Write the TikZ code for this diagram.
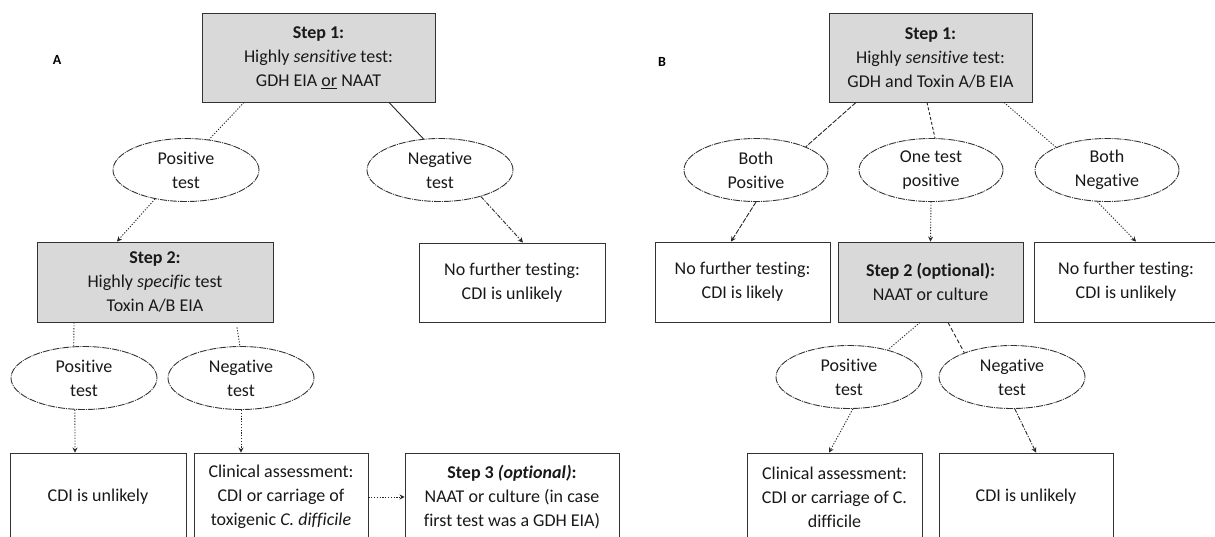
\documentclass[tikz,border=0pt]{standalone}
\usepackage{fontspec}
\setmainfont{Carlito}[Ligatures=NoCommon]
\usetikzlibrary{arrows.meta,shapes.geometric}
\definecolor{boxgray}{RGB}{217,217,217}
\begin{document}
\begin{tikzpicture}[x=1pt,y=-1pt,
  every node/.style={font=\fontsize{18}{24}\selectfont, text=black!90, inner sep=0pt, align=center},
  box/.style={draw=black!80, line width=0.9pt, rectangle, minimum height=80pt},
  gbox/.style={box, fill=boxgray},
  oval/.style={draw=black!80, line width=0.9pt, ellipse, minimum width=146pt, minimum height=63pt, dash pattern=on 7pt off 1pt on 1pt off 1pt},
  lbl/.style={font=\fontsize{14}{16}\selectfont\bfseries, text=black},
  con/.style={line width=0.9pt, draw=black!85},
  arr/.style={con, -{Stealth[length=5pt,width=5pt]}},
  dotc/.style={dash pattern=on 1.2pt off 1.6pt},
  dashc/.style={dash pattern=on 5pt off 1.5pt},
  ddotc/.style={dash pattern=on 4pt off 1.5pt on 1.2pt off 1.5pt}
]
\clip (0,0) rectangle (1215,536);
\fill[white] (0,0) rectangle (1215,536);

% ---------------- Panel A ----------------
\node[lbl] (labA) at (57,60) {A};
\node[gbox, minimum width=233pt, minimum height=89pt] (s1A) at (318.5,57.5)
  {\textbf{Step 1:}\\Highly \textit{sensitive} test:\\GDH EIA \underline{or} NAAT};
\node[oval] (posA) at (186,170) {Positive\\test};
\node[oval] (negA) at (440,170) {Negative\\test};
\node[gbox, minimum width=236pt] (s2A) at (155,282)
  {\textbf{Step 2:}\\Highly \textit{specific} test\\Toxin A/B EIA};
\node[box, minimum width=186pt, minimum height=79pt] (nfA) at (512,282.5)
  {No further testing:\\CDI is unlikely};
\node[oval] (posA2) at (84,378) {Positive\\test};
\node[oval] (negA2) at (241,378) {Negative\\test};
\node[box, minimum width=176pt, minimum height=88pt] (cdiA) at (98,497) {CDI is unlikely};
\node[box, minimum width=174pt, minimum height=88pt] (clinA) at (281,497)
  {Clinical assessment:\\CDI or carriage of\\toxigenic \textit{C. difficile}};
\node[box, minimum width=214pt, minimum height=88pt] (s3A) at (512,497)
  {\textbf{Step 3 \textit{(optional)}:}\\NAAT or culture (in case\\first test was a GDH EIA)};

\draw[con, dotc] ([xshift=-74.5pt]s1A.south) -- (posA.53);
\draw[con] ([xshift=70.5pt]s1A.south) -- (negA.118);
\draw[arr, dotc] (posA.223) -- ([xshift=-38pt]s2A.north);
\draw[arr, ddotc] (negA.327) -- ([xshift=11pt]nfA.north);
\draw[con, dotc] ([xshift=-81pt]s2A.south) -- (posA2.108);
\draw[con, dotc] ([xshift=82pt,yshift=-5pt]s2A.south) -- (negA2.92);
\draw[arr, dotc] (posA2.254) -- ([xshift=-23pt]cdiA.north);
\draw[arr, dotc] (negA2.270) -- ([xshift=-40pt]clinA.north);
\draw[arr, dotc] (clinA.east) -- (s3A.west);

% ---------------- Panel B ----------------
\node[lbl] (labB) at (662,62) {B};
\node[gbox, minimum width=203pt, minimum height=89pt] (s1B) at (930.5,57.5)
  {\textbf{Step 1:}\\Highly \textit{sensitive} test:\\GDH and Toxin A/B EIA};
\node[oval, minimum width=144pt] (bpB) at (756,170) {Both\\Positive};
\node[oval, minimum width=144pt] (otB) at (931,170) {One test\\positive};
\node[oval, minimum width=144pt] (bnB) at (1107,170) {Both\\Negative};
\node[box, minimum width=175pt] (nflB) at (742.5,282) {No further testing:\\CDI is likely};
\node[gbox, minimum width=185pt] (s2B) at (930.5,282) {\textbf{Step 2 (optional):}\\NAAT or culture};
\node[box, minimum width=184pt] (nfuB) at (1126,282) {No further testing:\\CDI is unlikely};
\node[oval] (posB2) at (849,377) {Positive\\test};
\node[oval] (negB2) at (1012,377) {Negative\\test};
\node[box, minimum width=175pt, minimum height=88pt] (clinB) at (834.5,497)
  {Clinical assessment:\\CDI or carriage of C.\\difficile};
\node[box, minimum width=174pt, minimum height=88pt] (cdiB) at (1026,497) {CDI is unlikely};

\draw[con, dashc] ([xshift=-74.5pt]s1B.south) -- (bpB.25);
\draw[con, dash pattern=on 3pt off 2pt] ([xshift=-3.5pt]s1B.south) -- ([xshift=4pt]otB.north);
\draw[con, dotc] ([xshift=73.5pt]s1B.south) -- (bnB.156);
\draw[arr, dashc] (bpB.south) -- ([xshift=-11.5pt]nflB.north);
\draw[arr, dotc] (otB.south) -- (s2B.north);
\draw[arr, dotc] (bnB.253) -- ([xshift=10pt]nfuB.north);
\draw[con, dotc] ([xshift=-10.5pt]s2B.south) -- (posB2.35);
\draw[con, dash pattern=on 4pt off 2.5pt] ([xshift=17.5pt]s2B.south) -- (negB2.153);
\draw[arr, dotc] (posB2.277) -- ([xshift=-5.5pt]clinB.north);
\draw[arr, ddotc] (negB2.275) -- ([xshift=10pt]cdiB.north);
\end{tikzpicture}
\end{document}
